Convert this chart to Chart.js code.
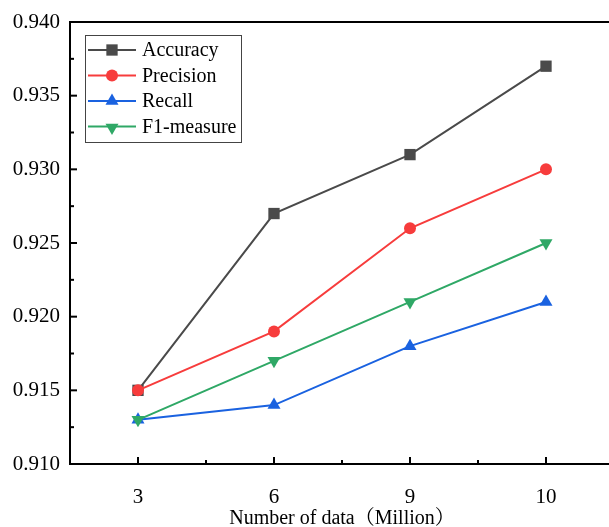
<!DOCTYPE html>
<html>
<head>
<meta charset="utf-8">
<script src="https://cdn.jsdelivr.net/npm/chart.js@4"></script>
<style>
  html, body { margin: 0; padding: 0; background: #fff; overflow: hidden; width: 609px; height: 527px; }
  #box { position: relative; width: 616px; height: 527px; }
</style>
</head>
<body>
<div id="box"><canvas id="myChart"></canvas></div>
<script>
// data
var categories = ['3', '6', '9', '10'];
var accuracy = [0.915, 0.927, 0.931, 0.937];
var precision = [0.915, 0.919, 0.926, 0.930];
var recall = [0.913, 0.914, 0.918, 0.921];
var f1measure = [0.913, 0.917, 0.921, 0.925];
var seriesNames = ['Accuracy', 'Precision', 'Recall', 'F1-measure'];
var yMin = 0.910, yMax = 0.940, yStep = 0.005;

var serif = "'Liberation Serif', 'Noto Serif CJK SC', 'Noto Sans CJK SC', serif";

function line(c, x1, y1, x2, y2) {
  c.beginPath(); c.moveTo(x1, y1); c.lineTo(x2, y2); c.stroke();
}

function marker(c, style, rot, x, y, r, color) {
  c.fillStyle = color;
  c.beginPath();
  if (style === 'rect') {
    var s = r * Math.SQRT1_2;
    c.rect(x - s, y - s, 2 * s, 2 * s);
  } else if (style === 'circle') {
    c.arc(x, y, r, 0, Math.PI * 2);
  } else {
    var d = rot ? -1 : 1;  // rotated 180 -> pointing down
    c.moveTo(x, y - d * r);
    c.lineTo(x + r * 0.866, y + d * r * 0.5);
    c.lineTo(x - r * 0.866, y + d * r * 0.5);
  }
  c.closePath();
  c.fill();
}

// frame, inward ticks and the legend box
var frame = {
  id: 'frame',
  afterDraw: function(chart) {
    var c = chart.ctx, a = chart.chartArea, xs = chart.scales.x, ys = chart.scales.y;
    c.save();
    c.strokeStyle = '#000';
    c.lineWidth = 2;
    c.strokeRect(a.left, a.top, a.right - a.left, a.bottom - a.top);
    ys.ticks.forEach(function(t, i) {
      var p = ys.getPixelForValue(t.value);
      line(c, a.left, p, a.left + 7, p);
      if (i < ys.ticks.length - 1) {
        var m = ys.getPixelForValue(t.value + yStep / 2);
        line(c, a.left, m, a.left + 4, m);
      }
    });
    for (var i = 0; i < categories.length; i++) {
      var p = xs.getPixelForValue(i);
      line(c, p, a.bottom, p, a.bottom - 7);
      if (i > 0) {
        var m = xs.getPixelForValue(i - 0.5);
        line(c, m, a.bottom, m, a.bottom - 4);
      }
    }

    // legend
    var lx = a.left + 15, ly = a.top + 13, lw = 156, lh = 107;
    c.lineWidth = 1;
    c.strokeStyle = '#444';
    c.strokeRect(lx + 0.5, ly + 0.5, lw, lh);
    c.font = '20px ' + serif;
    c.textBaseline = 'middle';
    chart.data.datasets.forEach(function(ds, k) {
      var cy = ly + 15 + k * 25.5;
      c.strokeStyle = ds.borderColor;
      c.lineWidth = 2;
      line(c, lx + 3, cy, lx + 51, cy);
      marker(c, ds.pointStyle, ds.pointRotation, lx + 27, cy + (ds.pointRotation ? 1 : 0), ds.pointRadius, ds.borderColor);
      c.fillStyle = '#000';
      c.fillText(ds.label, lx + 57, cy + 1);
    });
    c.restore();
  }
};

var ctx = document.getElementById('myChart').getContext('2d');

var chart = new Chart(ctx, {
  type: 'line',
  data: {
    labels: categories,
    datasets: [{
      label: seriesNames[0],
      data: accuracy,
      borderColor: '#4a4a4a',
      backgroundColor: '#4a4a4a',
      pointStyle: 'rect',
      pointRadius: 8,
      order: 4
    }, {
      label: seriesNames[1],
      data: precision,
      borderColor: '#f73c3c',
      backgroundColor: '#f73c3c',
      pointStyle: 'circle',
      pointRadius: 6,
      order: 3
    }, {
      label: seriesNames[2],
      data: recall,
      borderColor: '#1a62e0',
      backgroundColor: '#1a62e0',
      pointStyle: 'triangle',
      pointRadius: 7.5,
      order: 2
    }, {
      label: seriesNames[3],
      data: f1measure,
      borderColor: '#2fa866',
      backgroundColor: '#2fa866',
      pointStyle: 'triangle',
      pointRotation: 180,
      pointRadius: 7.5,
      order: 1
    }]
  },
  options: {
    responsive: true,
    maintainAspectRatio: false,
    animation: false,
    layout: { autoPadding: false, padding: { top: 22, right: 2, left: 0, bottom: 0 } },
    elements: {
      line: { borderWidth: 2, tension: 0 },
      point: { borderWidth: 0, hoverRadius: 7 }
    },
    plugins: {
      legend: { display: false },
      tooltip: { enabled: false }
    },
    scales: {
      x: {
        offset: true,
        grid: { display: false, drawTicks: false },
        border: { display: false },
        ticks: { color: '#000', font: { family: serif, size: 21 }, padding: 21 },
        title: {
          display: true,
          text: 'Number of data（Million）',
          color: '#000',
          font: { family: serif, size: 20 },
          padding: { top: 0, bottom: -4 }
        },
        afterFit: function(s) {
          s.height = 63;
          s.paddingLeft = 0;
          s.paddingRight = 0;
        }
      },
      y: {
        min: yMin,
        max: yMax,
        grid: { display: false, drawTicks: false },
        border: { display: false },
        ticks: {
          stepSize: yStep,
          color: '#000',
          font: { family: serif, size: 21 },
          padding: 10,
          callback: function(v) { return v.toFixed(3); }
        },
        afterFit: function(s) {
          s.width = 70;
          s.paddingTop = 0;
          s.paddingBottom = 0;
        }
      }
    }
  },
  plugins: [frame]
});
</script>
</body>
</html>
